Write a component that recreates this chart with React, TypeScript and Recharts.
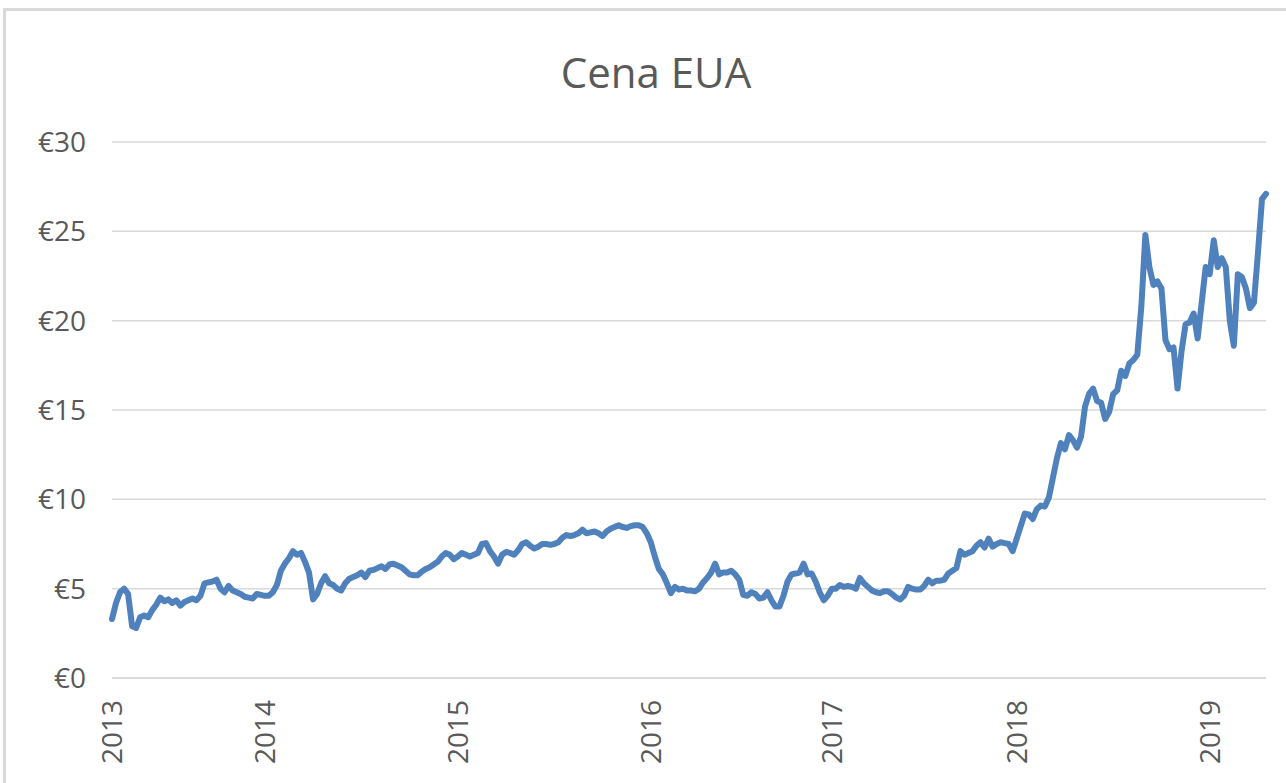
import { LineChart, Line, XAxis, YAxis, CartesianGrid } from "recharts";

// EUA price, roughly weekly samples, one array per year
const price2013 = [
  3.3, 4.2, 4.8, 5.0, 4.7, 2.9, 2.8, 3.4, 3.5, 3.4, 3.8, 4.1, 4.5, 4.3, 4.4, 4.2, 4.35, 4.05, 4.25,
  4.35, 4.45, 4.35, 4.6, 5.3, 5.35, 5.4, 5.5, 5.0, 4.8, 5.15, 4.9, 4.8, 4.7, 4.55, 4.5, 4.45, 4.7, 4.65,
];
const price2014 = [
  4.6, 4.6, 4.8, 5.2, 6.0, 6.4, 6.7, 7.1, 6.9, 7.0, 6.5, 5.9, 4.4, 4.7, 5.3, 5.7, 5.3, 5.2, 5.0, 4.9,
  5.3, 5.55, 5.65, 5.75, 5.9, 5.65, 6.0, 6.05, 6.15, 6.25, 6.1, 6.35, 6.4, 6.3, 6.2, 6.0, 5.8, 5.75,
  5.75, 5.95, 6.1, 6.2, 6.35, 6.5, 6.8, 7.0, 6.9, 6.65,
];
const price2015 = [
  6.8, 7.0, 6.9, 6.8, 6.9, 7.0, 7.5, 7.55, 7.1, 6.8, 6.4, 6.9, 7.05, 7.0, 6.9, 7.15, 7.5, 7.6, 7.4,
  7.25, 7.35, 7.5, 7.5, 7.45, 7.5, 7.6, 7.85, 8.0, 7.95, 8.0, 8.1, 8.3, 8.1, 8.15, 8.2, 8.1, 7.95, 8.2,
  8.35, 8.45, 8.55, 8.45, 8.4, 8.5, 8.55, 8.55, 8.45, 8.1,
];
const price2016 = [
  7.6, 6.8, 6.1, 5.8, 5.3, 4.75, 5.1, 4.95, 5.0, 4.9, 4.9, 4.85, 5.0, 5.35, 5.6, 5.9, 6.4, 5.8, 5.9,
  5.9, 6.0, 5.8, 5.5, 4.65, 4.6, 4.8, 4.7, 4.45, 4.5, 4.8, 4.35, 4.0, 4.0, 4.6, 5.4, 5.8, 5.85, 5.9,
  6.4, 5.8, 5.85, 5.4, 4.8, 4.35, 4.6,
];
const price2017 = [
  5.0, 5.0, 5.2, 5.1, 5.15, 5.1, 5.0, 5.6, 5.3, 5.1, 4.9, 4.8, 4.75, 4.85, 4.85, 4.7, 4.5, 4.4, 4.6,
  5.1, 5.0, 4.95, 4.95, 5.15, 5.5, 5.3, 5.45, 5.45, 5.5, 5.85, 6.0, 6.15, 7.1, 6.9, 7.0, 7.1, 7.4, 7.6,
  7.3, 7.8, 7.35, 7.5, 7.6, 7.55, 7.5, 7.1,
];
const price2018 = [
  7.8, 8.5, 9.2, 9.15, 8.9, 9.45, 9.65, 9.6, 10.1, 11.2, 12.3, 13.15, 12.8, 13.6, 13.3, 12.9, 13.5,
  15.2, 15.9, 16.2, 15.5, 15.4, 14.5, 14.9, 15.9, 16.1, 17.2, 16.9, 17.6, 17.8, 18.1, 20.8, 24.8, 23.0,
  22.0, 22.2, 21.8, 18.9, 18.4, 18.5, 16.2, 18.3, 19.8, 19.9, 20.4, 19.0, 21.0, 23.0,
];
const price2019 = [22.6, 24.5, 23.0, 23.5, 23.0, 20.0, 18.6, 22.6, 22.45, 21.8, 20.7, 21.0, 23.8, 26.8, 27.1];

const years = ["2013", "2014", "2015", "2016", "2017", "2018", "2019"];
const yearPrices = [price2013, price2014, price2015, price2016, price2017, price2018, price2019];
const yTicks = [0, 5, 10, 15, 20, 25, 30];

const yearStarts: number[] = [];
const data: { i: number; price: number }[] = [];
yearPrices.forEach((arr) => {
  yearStarts.push(data.length);
  arr.forEach((p) => data.push({ i: data.length, price: p }));
});

const FONT = "'Open Sans', sans-serif";

function YearTick(props: any) {
  const { x, y, payload } = props;
  const idx = yearStarts.indexOf(payload.value);
  return (
    <g transform={`translate(${x},${y})`}>
      <text
        transform="rotate(-90)"
        x={-22}
        y={0}
        dy="0.36em"
        textAnchor="end"
        fill="#595959"
        fontSize={28}
        fontFamily={FONT}
      >
        {years[idx]}
      </text>
    </g>
  );
}

export default function App() {
  return (
    <div
      style={{
        position: "fixed",
        left: 0,
        top: 0,
        width: 1286,
        height: 783,
        background: "#fff",
        overflow: "hidden",
      }}
    >
      {/* chart frame */}
      <div
        style={{
          position: "absolute",
          left: 3,
          top: 8,
          width: 1300,
          height: 800,
          border: "3px solid #d9d9d9",
        }}
      />
      <div
        style={{
          position: "absolute",
          left: 0,
          top: 44,
          width: 1312,
          textAlign: "center",
          fontFamily: FONT,
          fontSize: 42,
          color: "#595959",
          lineHeight: "56px",
        }}
      >
        Cena EUA
      </div>
      <div style={{ position: "absolute", left: 0, top: 0 }}>
        <LineChart
          width={1286}
          height={783}
          data={data}
          margin={{ top: 142, right: 20, left: 0, bottom: 0 }}
        >
          <CartesianGrid vertical={false} stroke="#d9d9d9" strokeWidth={1.5} />
          <XAxis
            dataKey="i"
            type="number"
            domain={[0, data.length - 1]}
            ticks={yearStarts}
            interval={0}
            tick={<YearTick />}
            tickLine={false}
            tickSize={0}
            tickMargin={0}
            axisLine={{ stroke: "#d9d9d9", strokeWidth: 1.5 }}
            height={105}
          />
          <YAxis
            domain={[0, 30]}
            ticks={yTicks}
            width={112}
            tickLine={false}
            axisLine={false}
            tickSize={0}
            tickMargin={26}
            tickFormatter={(v) => `€${v}`}
            tick={{ fill: "#595959", fontSize: 28, fontFamily: FONT }}
          />
          <Line
            type="linear"
            dataKey="price"
            stroke="#4f81bd"
            strokeWidth={6}
            strokeLinejoin="round"
            strokeLinecap="round"
            dot={false}
            isAnimationActive={false}
          />
        </LineChart>
      </div>
    </div>
  );
}
